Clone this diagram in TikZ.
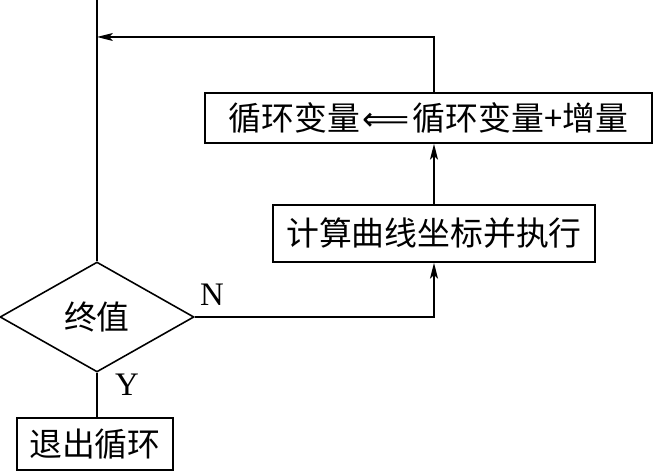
\documentclass[tikz,border=0pt]{standalone}
\usepackage{fontspec}
\setmainfont{Liberation Serif}
\newfontfamily\cjk{Noto Sans CJK SC}
\newfontfamily\arrowfont{DejaVu Sans}
\usetikzlibrary{shapes.geometric,arrows.meta}
\tikzset{
  flowbox/.style={draw,line width=0.9pt,inner sep=0pt,font=\cjk},
  flowdec/.style={draw,diamond,line width=0.9pt,inner sep=0pt,font=\cjk},
  flowline/.style={line width=0.9pt},
  flowarrow/.style={line width=0.9pt,-{Stealth[length=9pt,width=4.5pt,inset=2pt]}},
  branch/.style={font=\fontsize{18.7}{22}\selectfont}
}
\begin{document}
\fontsize{18.7}{22}\selectfont
\begin{tikzpicture}[x=0.02cm,y=-0.02cm]
  \useasboundingbox (0,0) rectangle (653,472);
  % Boxes
  \node[flowbox,minimum width=447*0.02cm,minimum height=50*0.02cm] (update) at (428.5,118)
    {循环变量\kern1.5pt{\arrowfont ⟸}\kern1.5pt 循环变量+增量};
  \node[flowbox,minimum width=322*0.02cm,minimum height=57*0.02cm] (compute) at (434,233.5)
    {计算曲线坐标并执行};
  \node[flowdec,minimum width=194*0.02cm,minimum height=110*0.02cm] (endval) at (97,317) {终值};
  \node[flowbox,minimum width=156*0.02cm,minimum height=52*0.02cm] (quit) at (95,444) {退出循环};
  % Free ends
  \coordinate (entry) at (97,0);
  \coordinate (join) at (97,37);
  % Connectors
  \draw[flowline] (entry) -- (endval.north);
  \draw[flowarrow] (endval.east) -| (compute.south);
  \draw[flowarrow] (compute.north) -- (compute.north |- update.south);
  \draw[flowarrow] (compute.north |- update.north) |- (join);
  \draw[flowline] (endval.south) -- (endval.south |- quit.north);
  % Branch labels
  \node[branch] (labn) at (212,295) {N};
  \node[branch] (laby) at (127,385) {Y};
\end{tikzpicture}
\end{document}
